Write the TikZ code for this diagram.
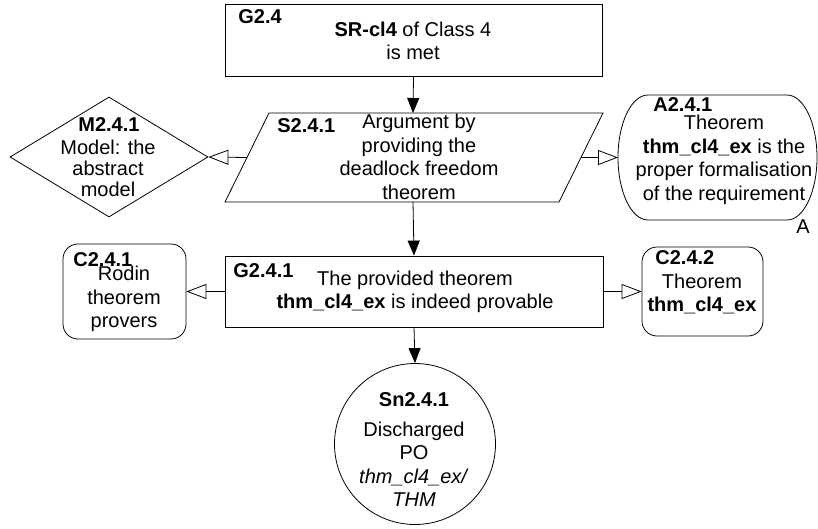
\documentclass[tikz,border=0pt]{standalone}
\usepackage{fontspec}
\setmainfont{Liberation Sans}
\usetikzlibrary{arrows.meta,shapes.geometric}
\tikzset{
  txt/.style={font=\fontsize{20}{23.5}\selectfont, inner sep=0pt, align=center},
  lbl/.style={font=\fontsize{20}{23.5}\selectfont\bfseries, inner sep=0pt, anchor=base west},
  solidarr/.style={-{Triangle[length=15pt,width=12pt]}},
  openarr/.style={-{Triangle[open,length=20pt,width=15pt]}},
  ctxbox/.style={draw, rounded corners=15pt, inner sep=0pt},
  goalbox/.style={draw, rectangle, inner sep=0pt},
}
\begin{document}
\begin{tikzpicture}[x=1pt,y=-1pt,line width=0.8pt]
\useasboundingbox (0,0) rectangle (818,529);

% G2.4
\node[goalbox, minimum width=377pt, minimum height=72pt] (G24) at (413.5,40) {};
\node[txt] (G24t) at (413,41) {\textbf{SR-cl4} of Class 4\\is met};
\node[lbl] (G24l) at (238,24) {G2.4};

% S2.4.1 parallelogram
\coordinate (S1) at (269,113);
\coordinate (S2) at (603,113);
\coordinate (S3) at (559,202);
\coordinate (S4) at (225,202);
\draw (S1) -- (S2) -- (S3) -- (S4) -- cycle;
\coordinate (ST) at (413,113);
\coordinate (SB) at (413,202);
\coordinate (SL) at (247,157.5);
\coordinate (SR) at (581,157.5);
\node[txt] (St) at (419,157) {Argument by\\providing the\\deadlock freedom\\theorem};
\node[lbl] (Sl) at (277,133) {S2.4.1};

% M2.4.1 diamond
\node[draw, diamond, minimum width=198pt, minimum height=120pt, inner sep=0pt] (M) at (109,157) {};
\node[txt, font=\fontsize{20}{21}\selectfont] (Mt) at (108,168) {Model: the\\abstract\\model};
\node[lbl] (Ml) at (78,132) {M2.4.1};

% A2.4.1
\coordinate (AL) at (618,157.5);
\draw (648,95) -- (787,95)
  .. controls (803.6,95) and (817,123) .. (817,157.5)
  .. controls (817,192) and (803.6,220) .. (787,220)
  -- (648,220)
  .. controls (631.4,220) and (618,192) .. (AL)
  .. controls (618,123) and (631.4,95) .. (648,95) -- cycle;
\node[txt] (At) at (724,160) {Theorem\\\textbf{thm\_cl4\_ex} is the\\proper formalisation\\of the requirement};
\node[lbl] (Al) at (653,112) {A2.4.1};
\node[txt] (Aa) at (803,227) {A};

% G2.4.1
\node[goalbox, minimum width=378pt, minimum height=71pt] (G241) at (414,291.5) {};
\node[txt] (G241t) at (415,292) {The provided theorem\\\textbf{thm\_cl4\_ex} is indeed provable};
\node[lbl] (G241l) at (233,277) {G2.4.1};

% C2.4.1
\node[ctxbox, minimum width=123pt, minimum height=95pt] (C241) at (124.5,291.5) {};
\node[txt] (C241t) at (124,299) {Rodin\\theorem\\provers};
\node[lbl] (C241l) at (73,266) {C2.4.1};

% C2.4.2
\node[ctxbox, minimum width=121pt, minimum height=89pt] (C242) at (702.5,291.5) {};
\node[txt] (C242t) at (702,294) {Theorem\\\textbf{thm\_cl4\_ex}};
\node[lbl] (C242l) at (655,264) {C2.4.2};

% Sn2.4.1
\node[draw, circle, minimum size=161pt, inner sep=0pt] (Sn) at (415,444) {};
\node[txt] (Snt) at (414,450) {\textbf{Sn2.4.1}\\[6pt]Discharged\\PO\\\textit{thm\_cl4\_ex/}\\\textit{THM}};

% connectors
\draw[solidarr] (G24.south) -- (ST);
\draw[solidarr] (SB) -- (G241.north);
\draw[solidarr] (G241.south) -- (Sn.north);
\draw[openarr] (SL) -- (M.east);
\draw[openarr] (SR) -- (AL);
\draw[openarr] (G241.west) -- (C241.east);
\draw[openarr] (G241.east) -- (C242.west);
\end{tikzpicture}
\end{document}
